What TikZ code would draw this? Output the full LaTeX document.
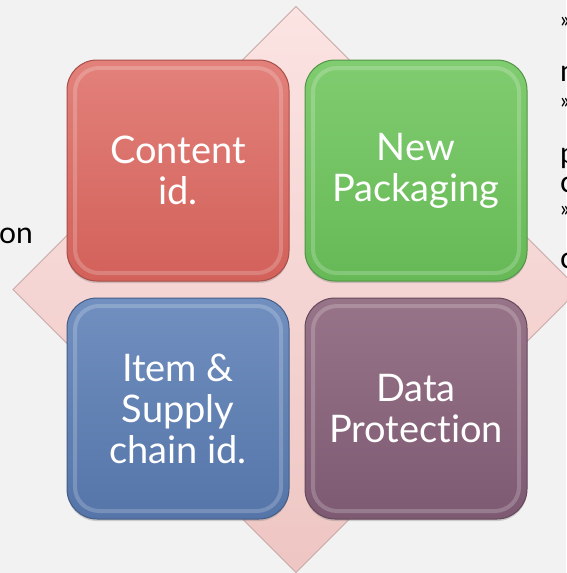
\documentclass[tikz,border=0pt]{standalone}
\usepackage{fontspec}
\setmainfont{Lato}[Ligatures=NoCommon]
\usetikzlibrary{shadows}

\definecolor{pagegray}{HTML}{F2F2F2}
\definecolor{diamondtop}{HTML}{FBE4E3}
\definecolor{diamondbot}{HTML}{EEC6C3}
\definecolor{diamondedge}{HTML}{C9ABA9}
\definecolor{redtop}{HTML}{E2817A}
\definecolor{redbot}{HTML}{D2615A}
\definecolor{greentop}{HTML}{80CC70}
\definecolor{greenbot}{HTML}{66B956}
\definecolor{bluetop}{HTML}{7190C0}
\definecolor{bluebot}{HTML}{5574A8}
\definecolor{purpletop}{HTML}{977488}
\definecolor{purplebot}{HTML}{7D5A72}

\begin{document}
\begin{tikzpicture}[x=1pt,y=-1pt]
        \tikzstyle{every node}=[node distance=238pt]
        \tikzstyle{tile}=[draw, line width=1pt, rounded corners=30pt,
            minimum width=222pt, minimum height=221pt, inner sep=0pt,
            align=center, text=white, font=\fontsize{38}{41}\selectfont,
            drop shadow={shadow xshift=0pt, shadow yshift=-2pt, opacity=0.35},
            path picture={
                \draw[white, opacity=0.2, line width=4pt, rounded corners=24pt]
                    ([xshift=8pt,yshift=-8pt]path picture bounding box.north west) rectangle
                    ([xshift=-8pt,yshift=8pt]path picture bounding box.south east);
            }]
        \tikzstyle{snippet}=[anchor=base west, inner sep=0pt, text=black, font=\fontsize{30}{30}\selectfont]
        \tikzstyle{bullet}=[inner sep=0pt, text=black, font=\fontsize{22}{22}\selectfont]

        \useasboundingbox (0,0) rectangle (566,573);
        \fill[pagegray] (0,0) rectangle (566,573);

        % pink diamond behind the tiles
        \path[draw=diamondedge, line width=0.8pt, top color=diamondtop, bottom color=diamondbot]
            (296,6.5) -- (579,289.5) -- (296,572.5) -- (13,289.5) -- cycle;

        % content id.
        \node[tile, draw=redbot!80!black, top color=redtop, bottom color=redbot] (content) at (178,170.5) {Content\\id.};

        % new packaging
        \node[tile, draw=greenbot!80!black, top color=greentop, bottom color=greenbot, right of=content] (packaging) {New\\Packaging};

        % item and supply chain id.
        \node[tile, draw=bluebot!80!black, top color=bluetop, bottom color=bluebot, below of=content] (supply) {Item \&\\Supply\\chain id.};

        % data protection
        \node[tile, draw=purplebot!80!black, top color=purpletop, bottom color=purplebot, right of=supply] (protection) {Data\\Protection};

        % text cut off at the edges
        \begin{scope}
            \clip (0,0) rectangle (566,573);
            \node[snippet, anchor=base east] (lefton) at (33,243) {on};
            \node[bullet] (bulletone) at (565,22) {»};
            \node[snippet] (rightn) at (560,81) {n};
            \node[bullet] (bullettwo) at (565,103) {»};
            \node[snippet] (rightp) at (560,163) {p};
            \node[snippet] (rightc) at (560,192) {c};
            \node[bullet] (bulletthree) at (565,211) {»};
            \node[snippet] (rightcc) at (560,268) {c};
        \end{scope}
\end{tikzpicture}
\end{document}
